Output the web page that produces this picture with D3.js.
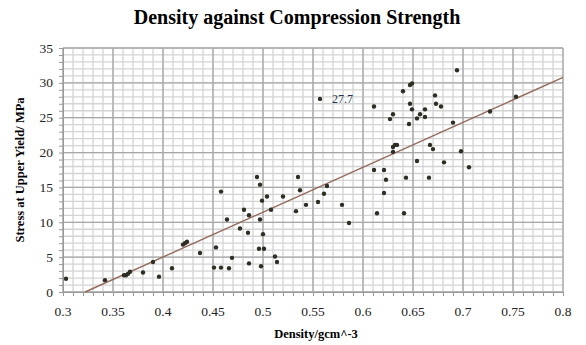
<!DOCTYPE html>
<html>
<head>
<meta charset="utf-8">
<script src="https://cdn.jsdelivr.net/npm/d3@7"></script>
<style>
  body { margin: 0; background: #fff; }
  text { font-family: "Liberation Serif", "Times New Roman", serif; }
</style>
</head>
<body>
<div id="chart"></div>
<script>
// density (g/cm^3) and stress at upper yield (MPa)
const density = [
  0.303, 0.342, 0.361, 0.363, 0.365, 0.367, 0.380, 0.390, 0.396, 0.409,
  0.420, 0.422, 0.424, 0.437, 0.451, 0.453, 0.458, 0.458, 0.464, 0.466,
  0.469, 0.477, 0.481, 0.485, 0.486, 0.486, 0.494, 0.497, 0.497, 0.496,
  0.501, 0.498, 0.499, 0.500, 0.504, 0.508, 0.512, 0.514, 0.520, 0.533,
  0.535, 0.537, 0.543, 0.555, 0.561, 0.564, 0.557, 0.579, 0.586, 0.614,
  0.611, 0.621, 0.623, 0.621, 0.641, 0.611, 0.627, 0.630, 0.640, 0.647,
  0.649, 0.647, 0.649, 0.646, 0.654, 0.657, 0.662, 0.662, 0.672, 0.673,
  0.678, 0.694, 0.690, 0.727, 0.753, 0.630, 0.632, 0.634, 0.630, 0.667,
  0.670, 0.654, 0.681, 0.698, 0.706, 0.643, 0.666
];
const stress = [
  1.9, 1.7, 2.4, 2.4, 2.6, 2.9, 2.8, 4.3, 2.2, 3.4,
  6.8, 7.0, 7.2, 5.6, 3.5, 6.4, 3.5, 14.4, 10.4, 3.4,
  4.9, 9.1, 11.8, 8.5, 11.0, 4.1, 16.5, 15.4, 10.4, 6.2,
  6.2, 3.7, 13.1, 8.3, 13.7, 11.8, 5.1, 4.3, 13.7, 11.6,
  16.5, 14.6, 12.5, 12.9, 14.1, 15.2, 27.7, 12.5, 9.9, 11.3,
  17.5, 17.5, 16.1, 14.2, 11.3, 26.6, 24.8, 25.5, 28.8, 29.7,
  29.9, 27.0, 26.2, 24.1, 24.9, 25.5, 26.2, 25.1, 28.2, 27.0,
  26.6, 31.8, 24.3, 25.9, 28.0, 20.8, 21.1, 21.1, 20.1, 21.1,
  20.5, 18.8, 18.6, 20.2, 17.9, 16.4, 16.4
];
const labelledIndex = 46; // the point carrying the "27.7" label
const xTicks = [0.3, 0.35, 0.4, 0.45, 0.5, 0.55, 0.6, 0.65, 0.7, 0.75, 0.8];
const yTicks = [0, 5, 10, 15, 20, 25, 30, 35];
// linear trendline: stress = slope * density + intercept
const trendSlope = 64.4;
const trendIntercept = -20.74;

const W = 586, H = 345;
const margin = { top: 48, right: 23, bottom: 53, left: 63 };
const width = W - margin.left - margin.right;
const height = H - margin.top - margin.bottom;

const svg = d3.select('#chart').append('svg')
  .attr('width', W).attr('height', H);

const g = svg.append('g')
  .attr('transform', `translate(${margin.left},${margin.top})`);

const x = d3.scaleLinear().domain([0.3, 0.8]).range([0, width]);
const y = d3.scaleLinear().domain([0, 35]).range([height, 0]);

// minor grid
const xMinor = d3.range(30, 81).map(d => d / 100);
const yMinor = d3.range(0, 36);
g.append('g').selectAll('line').data(xMinor).enter().append('line')
  .attr('x1', d => x(d)).attr('x2', d => x(d))
  .attr('y1', 0).attr('y2', height)
  .attr('stroke', '#d4d4d4').attr('stroke-width', 1.3);
g.append('g').selectAll('line').data(yMinor).enter().append('line')
  .attr('x1', 0).attr('x2', width)
  .attr('y1', d => y(d)).attr('y2', d => y(d))
  .attr('stroke', '#d4d4d4').attr('stroke-width', 1.3);

// major grid
g.append('g').selectAll('line').data(xTicks).enter().append('line')
  .attr('x1', d => x(d)).attr('x2', d => x(d))
  .attr('y1', 0).attr('y2', height)
  .attr('stroke', '#a8a8a8').attr('stroke-width', 1.3);
g.append('g').selectAll('line').data(yTicks).enter().append('line')
  .attr('x1', 0).attr('x2', width)
  .attr('y1', d => y(d)).attr('y2', d => y(d))
  .attr('stroke', '#a8a8a8').attr('stroke-width', 1.3);

// axes with minor tick marks
const xAxis = g.append('g').attr('transform', `translate(0,${height})`)
  .call(d3.axisBottom(x).tickValues(xMinor).tickSize(4).tickFormat(''));
const yAxis = g.append('g')
  .call(d3.axisLeft(y).tickValues(yMinor).tickSize(4).tickFormat(''));
[xAxis, yAxis].forEach(a => {
  a.selectAll('path,line').attr('stroke', '#999');
});

// tick labels
g.append('g').selectAll('text').data(xTicks).enter().append('text')
  .attr('x', d => x(d)).attr('y', height + 24)
  .attr('text-anchor', 'middle')
  .attr('font-size', 13.5).attr('fill', '#222')
  .text(d => d);
g.append('g').selectAll('text').data(yTicks).enter().append('text')
  .attr('x', -10).attr('y', d => y(d) + 4.5)
  .attr('text-anchor', 'end')
  .attr('font-size', 13.5).attr('fill', '#222')
  .text(d => d);

// trendline, starting where it crosses zero
const x0 = -trendIntercept / trendSlope;
g.append('line')
  .attr('x1', x(x0)).attr('y1', y(0))
  .attr('x2', x(0.8)).attr('y2', y(trendSlope * 0.8 + trendIntercept))
  .attr('stroke', '#946a5e').attr('stroke-width', 1.4);

// points
g.append('g').selectAll('circle').data(density).enter().append('circle')
  .attr('cx', d => x(d))
  .attr('cy', (d, i) => y(stress[i]))
  .attr('r', 2.2)
  .attr('fill', '#2e2e24');

// data label
g.append('text')
  .attr('x', x(density[labelledIndex]) + 12)
  .attr('y', y(stress[labelledIndex]) + 4)
  .attr('font-size', 12).attr('fill', '#283552')
  .text(stress[labelledIndex]);

// titles
svg.append('text')
  .attr('x', 297).attr('y', 24)
  .attr('text-anchor', 'middle')
  .attr('font-size', 20).attr('font-weight', 'bold')
  .text('Density against Compression Strength');
svg.append('text')
  .attr('x', margin.left + width / 2 + 3).attr('y', 338)
  .attr('text-anchor', 'middle')
  .attr('font-size', 12.5).attr('font-weight', 'bold')
  .text('Density/gcm^-3');
svg.append('text')
  .attr('transform', `translate(24,${margin.top + height / 2}) rotate(-90)`)
  .attr('text-anchor', 'middle')
  .attr('font-size', 12.5).attr('font-weight', 'bold')
  .text('Stress at Upper Yield/ MPa');
</script>
</body>
</html>
